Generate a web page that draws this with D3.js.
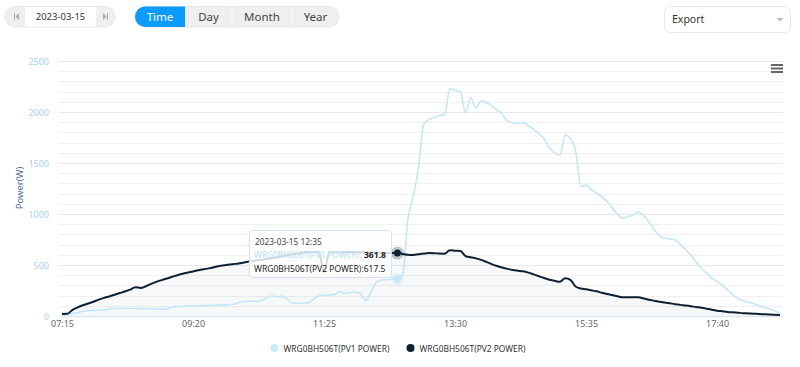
<!DOCTYPE html>
<html>
<head>
<meta charset="utf-8">
<script src="https://cdn.jsdelivr.net/npm/d3@7"></script>
<style>
  html, body { margin: 0; padding: 0; background: #fff; }
  svg { display: block; font-family: "Noto Sans", "Liberation Sans", Arial, sans-serif; }
</style>
</head>
<body>
<svg id="chart" width="800" height="367"></svg>
<script>
// ---- data ----
const startTime = "07:15";
const stepMinutes = 5;
const pointCount = 138;
const xTickLabels = ["07:15", "09:20", "11:25", "13:30", "15:35", "17:40"];
const yTicks = [0, 500, 1000, 1500, 2000, 2500];
const seriesNames = ["WRG0BH506T(PV1 POWER)", "WRG0BH506T(PV2 POWER)"];
const pv1 = [
  10, 14, 26, 35, 44, 52, 54, 56, 60, 68,
  72, 75, 74, 74, 73, 72, 72, 71, 70, 69,
  70, 90, 93, 96, 98, 100, 101, 102, 104, 105,
  107, 109, 112, 118, 138, 143, 145, 146, 150, 175,
  199, 188, 196, 165, 128, 125, 125, 128, 165, 198,
  204, 206, 210, 240, 222, 232, 235, 215, 150, 240,
  330, 352, 356, 360, 361.8, 400, 950, 1170, 1450, 1880,
  1925, 1945, 1965, 1975, 2230, 2210, 2200, 1990, 2140, 2040,
  2110, 2090, 2060, 2020, 1980, 1910, 1895, 1890, 1895, 1865,
  1830, 1785, 1735, 1650, 1600, 1578, 1775, 1740, 1620, 1270,
  1285, 1240, 1205, 1170, 1121, 1060, 1000, 958, 975, 990,
  1020, 980, 920, 850, 785, 765, 755, 745, 700, 650,
  595, 530, 465, 420, 370, 340, 300, 255, 210, 170,
  150, 135, 120, 102, 85, 68, 50, 30
];
const pv2 = [
  20, 22, 60, 85, 105, 122, 140, 160, 178, 192,
  208, 225, 240, 258, 282, 275, 292, 315, 335, 352,
  368, 385, 400, 414, 426, 437, 448, 458, 467, 478,
  490, 497, 504, 511, 518, 527, 538, 545, 552, 558,
  565, 575, 585, 595, 605, 612, 620, 625, 627, 628,
  430, 625, 624, 626, 625, 627, 626, 625, 624, 622,
  620, 620, 619, 618, 617.5, 608, 600, 598, 605, 612,
  617, 616, 612, 611, 644, 640, 637, 588, 575, 565,
  550, 530, 508, 490, 475, 462, 451, 444, 438, 425,
  408, 390, 372, 355, 345, 336, 370, 355, 290, 270,
  262, 252, 242, 228, 216, 205, 194, 183, 183, 184,
  183, 172, 160, 150, 140, 132, 124, 116, 109, 103,
  96, 88, 81, 72, 62, 52, 46, 40, 36, 32,
  28, 25, 22, 20, 17, 14, 12, 10
];
const tooltipIndex = 64;
const tooltipDate = "2023-03-15";
const controlDate = "2023-03-15";
const periodButtons = ["Time", "Day", "Month", "Year"];

// categories (regular 5-minute slots)
const [h0, m0] = startTime.split(":").map(Number);
const times = d3.range(pointCount).map(i => {
  const t = h0 * 60 + m0 + i * stepMinutes;
  return String(Math.floor(t / 60)).padStart(2, "0") + ":" + String(t % 60).padStart(2, "0");
});

const colors = { pv1: "#c3e6fa", pv2: "#0d1f33" };

const svg = d3.select("#chart");

// ---- top controls ----
const ctl = svg.append("g");
ctl.append("rect").attr("x", 5).attr("y", 6.5).attr("width", 110).attr("height", 20.5).attr("rx", 10.25)
  .attr("fill", "#efefef").attr("stroke", "#e6e6e6");
ctl.append("rect").attr("x", 25).attr("y", 7).attr("width", 71).attr("height", 19.5).attr("fill", "#fff");
ctl.append("text").attr("x", 60.5).attr("y", 20.2).attr("text-anchor", "middle").attr("font-size", 9.5)
  .attr("fill", "#333").text(controlDate);
ctl.append("rect").attr("x", 14).attr("y", 13).attr("width", 1).attr("height", 7).attr("fill", "#aaa");
ctl.append("path").attr("d", "M19,13 L15.5,16.5 L19,20 Z").attr("fill", "#aaa");
ctl.append("rect").attr("x", 107).attr("y", 13).attr("width", 1).attr("height", 7).attr("fill", "#aaa");
ctl.append("path").attr("d", "M103,13 L106.5,16.5 L103,20 Z").attr("fill", "#aaa");

const btnEdges = [135, 185, 232, 292, 339];
ctl.append("rect").attr("x", 135).attr("y", 6.5).attr("width", 204).attr("height", 20.5).attr("rx", 10.25)
  .attr("fill", "#efefef").attr("stroke", "#e6e6e6");
ctl.append("path")
  .attr("d", "M185,6.5 L145.25,6.5 A10.25,10.25 0 0 0 145.25,27 L185,27 Z")
  .attr("fill", "#0a9bfd");
[232, 292].forEach(xv => ctl.append("line").attr("x1", xv).attr("x2", xv).attr("y1", 7).attr("y2", 26.5)
  .attr("stroke", "#fbfbfb").attr("stroke-width", 1));
periodButtons.forEach((b, i) => {
  ctl.append("text").attr("x", (btnEdges[i] + btnEdges[i + 1]) / 2).attr("y", 21)
    .attr("text-anchor", "middle").attr("font-size", 11.5)
    .attr("fill", i === 0 ? "#fff" : "#444").text(b);
});

ctl.append("rect").attr("x", 664.5).attr("y", 6.5).attr("width", 126).attr("height", 26).attr("rx", 6)
  .attr("fill", "#fff").attr("stroke", "#e8e8e8");
ctl.append("text").attr("x", 672).attr("y", 23).attr("font-size", 10.5).attr("fill", "#333").text("Export");
ctl.append("path").attr("d", "M776.5,18 L783.5,18 L780,21.5 Z").attr("fill", "#bbb");

// ---- chart ----
const plotLeft = 59, plotRight = 783;
const x = d3.scalePoint().domain(times).range([62, 780]);
const y = d3.scaleLinear().domain([0, 2500]).range([316, 61]);

const grid = svg.append("g");
d3.range(0, 2501, 100).forEach(v => {
  grid.append("line").attr("x1", plotLeft).attr("x2", plotRight)
    .attr("y1", Math.round(y(v)) + 0.5).attr("y2", Math.round(y(v)) + 0.5)
    .attr("stroke", v % 500 === 0 ? "#e9e9e9" : "#f0f0f0").attr("stroke-width", 1);
});

const yAxis = d3.axisLeft(y).tickValues(yTicks).tickFormat(d3.format("d")).tickSize(0).tickPadding(0);
const yg = svg.append("g").attr("transform", "translate(49,0)").call(yAxis);
yg.select(".domain").remove();
yg.selectAll("text").attr("font-size", 9).attr("fill", "#a9cff2").attr("font-family", "Noto Sans, sans-serif")
  .attr("dy", "0.34em");

svg.append("text").attr("transform", "translate(23,188) rotate(-90)").attr("text-anchor", "middle")
  .attr("font-size", 9.5).attr("fill", "#4f6f92").text("Power(W)");

const area = d3.area().x((d, i) => x(times[i])).y0(y(0)).y1(d => y(d)).curve(d3.curveMonotoneX);
svg.append("path").datum(pv2).attr("d", area).attr("fill", "#0d1f33").attr("fill-opacity", 0.03);

svg.append("line").attr("x1", plotLeft).attr("x2", plotRight).attr("y1", 316.5).attr("y2", 316.5)
  .attr("stroke", "#dfe6ee").attr("stroke-width", 1.5);
const xAxis = d3.axisBottom(x).tickValues(xTickLabels).tickSize(0).tickPadding(0);
const xg = svg.append("g").attr("transform", "translate(0,321)").call(xAxis);
xg.select(".domain").remove();
xg.selectAll("text").attr("font-size", 9).attr("fill", "#666").attr("font-family", "Noto Sans, sans-serif")
  .attr("dy", "0.71em");

const line = d3.line().x((d, i) => x(times[i])).y(d => y(d)).curve(d3.curveMonotoneX);
svg.append("path").datum(pv1).attr("d", line).attr("fill", "none")
  .attr("stroke", colors.pv1).attr("stroke-width", 1.6).attr("stroke-linejoin", "round");
svg.append("path").datum(pv2).attr("d", line).attr("fill", "none")
  .attr("stroke", colors.pv2).attr("stroke-width", 2).attr("stroke-linejoin", "round");

[65, 68.5, 72].forEach(yy => svg.append("rect").attr("x", 771).attr("y", yy - 1).attr("width", 12)
  .attr("height", 2).attr("fill", "#666"));

// hover markers
const mx = x(times[tooltipIndex]);
svg.append("circle").attr("cx", mx).attr("cy", y(pv1[tooltipIndex])).attr("r", 6)
  .attr("fill", colors.pv1).attr("fill-opacity", 0.35);
svg.append("circle").attr("cx", mx).attr("cy", y(pv1[tooltipIndex])).attr("r", 3.5)
  .attr("fill", colors.pv1);
svg.append("circle").attr("cx", mx).attr("cy", y(pv2[tooltipIndex])).attr("r", 6.5)
  .attr("fill", "#0d1f33").attr("fill-opacity", 0.25);
svg.append("circle").attr("cx", mx).attr("cy", y(pv2[tooltipIndex])).attr("r", 3.5)
  .attr("fill", colors.pv2);

// ---- tooltip ----
const tt = svg.append("g");
tt.append("rect").attr("x", 249.5).attr("y", 230.5).attr("width", 142).attr("height", 47).attr("rx", 3)
  .attr("fill", "#fff").attr("fill-opacity", 0.82).attr("stroke", "#d4e3ef").attr("stroke-width", 1);
tt.append("text").attr("x", 255).attr("y", 245).attr("font-size", 8.3).attr("fill", "#444")
  .text(tooltipDate + " " + times[tooltipIndex]);
tt.append("text").attr("x", 254).attr("y", 257.5).attr("font-size", 8.3).attr("fill", "#b5e0f8")
  .text(seriesNames[0] + ":");
tt.append("text").attr("x", 386).attr("y", 257.5).attr("font-size", 8.6).attr("fill", "#222")
  .attr("font-weight", "bold").attr("text-anchor", "end").text(pv1[tooltipIndex]);
tt.append("text").attr("x", 254).attr("y", 271.5).attr("font-size", 8.5).attr("fill", "#222")
  .text(seriesNames[1] + ":" + pv2[tooltipIndex]);

// ---- legend ----
const legendItems = [
  { name: seriesNames[0], color: "#c8eafc", cx: 274.5 },
  { name: seriesNames[1], color: colors.pv2, cx: 410.5 }
];
legendItems.forEach(it => {
  svg.append("circle").attr("cx", it.cx).attr("cy", 348).attr("r", 4).attr("fill", it.color);
  svg.append("text").attr("x", it.cx + 9).attr("y", 351.5).attr("font-size", 9.5).attr("fill", "#333")
    .attr("textLength", 106).attr("lengthAdjust", "spacingAndGlyphs").text(it.name);
});
</script>
</body>
</html>
